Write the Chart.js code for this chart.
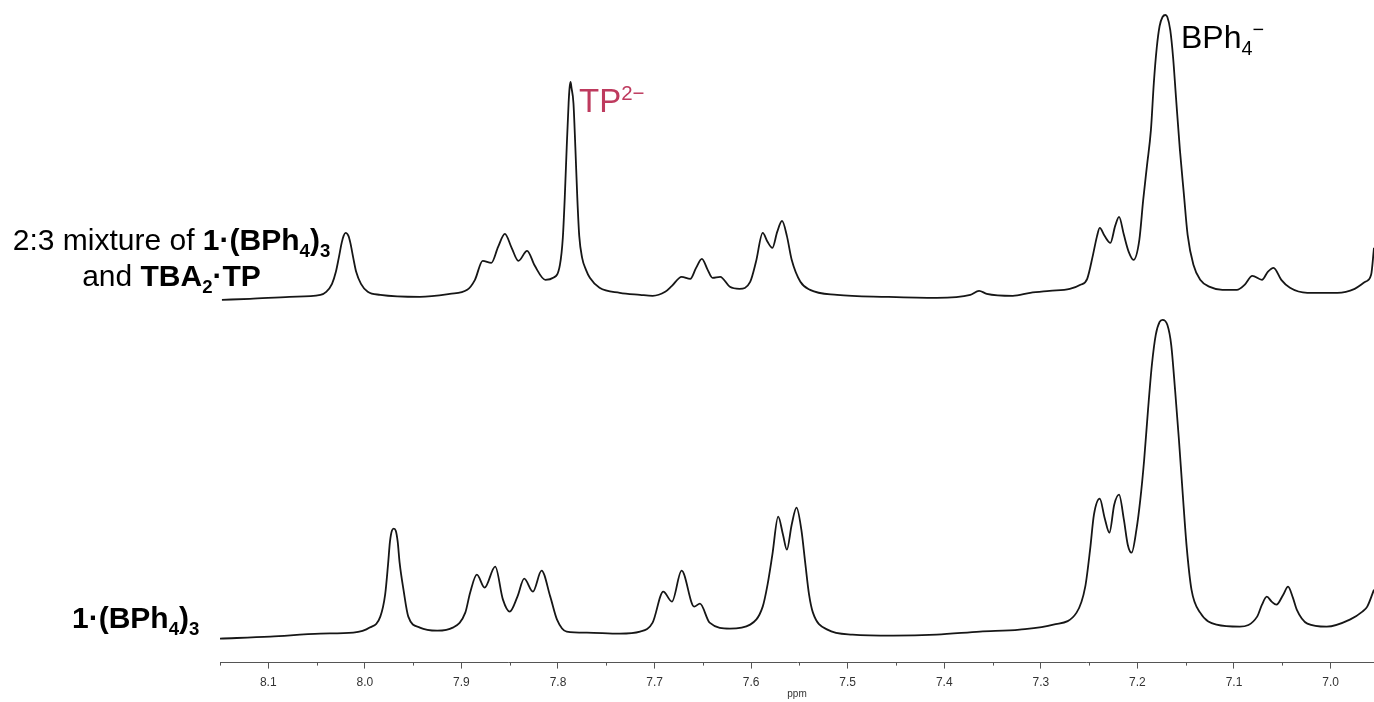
<!DOCTYPE html>
<html lang="en">
<head>
    <meta charset="UTF-8">
    <title>1H NMR spectra</title>
    <script src="https://cdn.jsdelivr.net/npm/chart.js@4.4.0/dist/chart.umd.min.js"></script>
    <style>
        body { margin: 0; background: #fff; font-family: "Liberation Sans", Arial, sans-serif; }
        #wrap { position: relative; width: 1374px; height: 702px; overflow: hidden; }
        #nmr { position: absolute; left: 0; top: 0; }
        .lbl { position: absolute; color: #000; font-size: 30px; line-height: 36px; white-space: nowrap; }
        .lbl sub, .lbl sup { font-size: 0.62em; line-height: 0; }
        .unit { position: absolute; left: 777px; top: 688px; width: 40px; text-align: center; font-size: 10px; color: #333; }
        b { font-weight: bold; }
    </style>
</head>
<body>
<div id="wrap">
    <canvas id="nmr" width="1374" height="702"></canvas>

    <!-- trace labels -->
    <div class="lbl" style="left:0; top:222px; width:343px; text-align:center;">
        2:3 mixture of <b>1·(BPh<sub>4</sub>)<sub>3</sub></b><br>
        and <b>TBA<sub>2</sub>·TP</b>
    </div>
    <div class="lbl" style="left:72px; top:600px;"><b>1·(BPh<sub>4</sub>)<sub>3</sub></b></div>

    <!-- peak labels -->
    <div class="lbl" style="left:579px; top:83px; font-size:33px; color:#BE3A5E;">TP<sup>2−</sup></div>
    <div class="lbl" style="left:1181px; top:19px; font-size:32px;">BPh<sub>4</sub><sup>−</sup></div>

    <div class="unit">ppm</div>
</div>

<script>
    // 2:3 mixture of 1·(BPh4)3 and TBA2·TP  (upper trace), left to right
    const mixPpm = [8.148, 8.119, 8.078, 8.046, 8.040, 8.034, 8.030, 8.027, 8.024, 8.022, 8.020, 8.017, 8.015, 8.012,
        8.009, 8.004, 7.997, 7.984,
        7.943, 7.912, 7.894, 7.886, 7.878, 7.869, 7.862, 7.855, 7.848, 7.841, 7.832, 7.824, 7.813, 7.805, 7.798,
        7.795, 7.793, 7.791, 7.789, 7.788, 7.787, 7.786, 7.784, 7.782, 7.780, 7.778, 7.775, 7.771, 7.767, 7.757,
        7.736, 7.715, 7.702, 7.689, 7.682,
        7.672, 7.663, 7.657, 7.651, 7.645, 7.640, 7.632, 7.622, 7.612, 7.601, 7.595, 7.588, 7.583, 7.578, 7.573,
        7.568, 7.563, 7.558, 7.549, 7.539, 7.511, 7.459, 7.408, 7.373, 7.364, 7.356, 7.329, 7.311, 7.291, 7.270,
        7.259, 7.252, 7.246, 7.242, 7.239, 7.234, 7.228, 7.223, 7.219, 7.214, 7.209, 7.204, 7.198, 7.194, 7.190,
        7.186, 7.183, 7.180, 7.177, 7.174, 7.171, 7.169, 7.166, 7.163, 7.160, 7.156, 7.152, 7.148, 7.142, 7.135,
        7.125, 7.112, 7.097, 7.089, 7.081, 7.071, 7.065, 7.059, 7.051, 7.042, 7.024, 6.993, 6.975, 6.964, 6.958, 6.955];
    const mixInt = [-2, -1, 1, 3, 6, 14, 26, 40, 55, 62, 65, 62, 55, 40,
        26, 14, 6, 3,
        1, 4, 8, 18, 37, 35, 51, 64, 50, 37, 47, 32, 18, 20, 33,
        60, 100, 150, 195, 210, 216, 210, 195, 150, 100, 62, 40, 28, 20, 10,
        5, 3, 2, 6, 12,
        21, 19, 30, 39, 28, 20, 21, 11, 9, 16, 36, 65, 56, 50, 66,
        77, 62, 38, 16, 8, 3, 1, 0, 3, 7, 4, 2, 5, 7, 9,
        13, 19, 43, 61, 70, 62, 55, 72, 81, 63, 46, 38, 58, 98, 133,
        168, 215, 250, 272, 281, 283, 281, 268, 240, 200, 148, 105, 63, 33, 18,
        11, 8, 8, 13, 22, 18, 26, 30, 18, 10, 5, 5, 9, 16, 23, 50];

    // 1·(BPh4)3 alone (lower trace)
    const purePpm = [8.150, 8.098, 8.046, 8.012, 7.995, 7.984, 7.979, 7.976, 7.974, 7.972, 7.970, 7.968, 7.966, 7.964,
        7.960, 7.955,
        7.943, 7.925, 7.909, 7.896, 7.891, 7.884, 7.876, 7.865, 7.857, 7.850, 7.842, 7.835, 7.826, 7.817, 7.808,
        7.801, 7.791, 7.770, 7.736, 7.715, 7.702, 7.691, 7.682, 7.672, 7.659, 7.653, 7.643, 7.622, 7.601, 7.588,
        7.583, 7.578, 7.572, 7.567, 7.563, 7.558, 7.553, 7.548, 7.544, 7.540, 7.536, 7.521, 7.495, 7.453, 7.408,
        7.363, 7.322, 7.287, 7.263, 7.254, 7.249, 7.245, 7.239, 7.234, 7.229, 7.224, 7.219, 7.214, 7.210, 7.206,
        7.201, 7.197, 7.193, 7.189, 7.185, 7.181, 7.177, 7.174, 7.169, 7.165, 7.161, 7.157, 7.153, 7.149, 7.144,
        7.135, 7.118, 7.094, 7.076, 7.071, 7.066, 7.061, 7.056, 7.049, 7.044, 7.039, 7.035, 7.024, 7.004, 6.980,
        6.967, 6.962, 6.955];
    const pureInt = [-2, 0, 3, 4, 9, 20, 42, 72, 95, 106, 108, 106, 95, 74,
        47, 20,
        9, 6, 9, 24, 44, 62, 49, 70, 37, 25, 40, 58, 45, 66, 40,
        17, 5, 4, 3, 5, 14, 45, 35, 66, 30, 33, 14, 8, 12, 30,
        52, 82, 120, 102, 87, 112, 129, 107, 74, 42, 24, 7, 2, 1, 2,
        5, 7, 12, 24, 50, 87, 122, 138, 119, 104, 132, 142, 117, 92, 84,
        107, 137, 177, 227, 272, 302, 315, 317, 312, 292, 247, 197, 142, 90, 47,
        24, 12, 10, 20, 32, 40, 35, 32, 42, 50, 39, 27, 13, 10, 17,
        25, 30, 47];

    const majorTicks = [8.1, 8.0, 7.9, 7.8, 7.7, 7.6, 7.5, 7.4, 7.3, 7.2, 7.1, 7.0];
    const minorTicks = [8.15, 8.05, 7.95, 7.85, 7.75, 7.65, 7.55, 7.45, 7.35, 7.25, 7.15, 7.05];

    // vertical stacking of the two traces
    const mixOffset = 365;
    const pureOffset = 26;

    function toPoints(ppm, vals, offset) {
        return ppm.map((p, i) => ({ x: p, y: vals[i] + offset }));
    }

    // short unlabeled ticks halfway between the labelled ones
    const minorTickPlugin = {
        id: 'minorTicks',
        afterDraw(chart) {
            const sx = chart.scales.x;
            const ctx = chart.ctx;
            ctx.save();
            ctx.strokeStyle = '#555';
            ctx.lineWidth = 1;
            minorTicks.forEach(v => {
                const px = Math.round(sx.getPixelForValue(v)) + 0.5;
                ctx.beginPath();
                ctx.moveTo(px, sx.top);
                ctx.lineTo(px, sx.top + 3);
                ctx.stroke();
            });
            ctx.restore();
        }
    };

    const traceStyle = {
        borderColor: '#161616',
        borderWidth: 1.8,
        pointRadius: 0,
        fill: false,
        cubicInterpolationMode: 'monotone'
    };

    new Chart(document.getElementById('nmr').getContext('2d'), {
        type: 'line',
        data: {
            datasets: [
                Object.assign({ label: 'mixture', data: toPoints(mixPpm, mixInt, mixOffset) }, traceStyle),
                Object.assign({ label: '1·(BPh4)3', data: toPoints(purePpm, pureInt, pureOffset) }, traceStyle)
            ]
        },
        options: {
            responsive: false,
            animation: false,
            layout: { padding: { left: 220, right: 0, top: 0, bottom: 5 } },
            plugins: {
                legend: { display: false },
                tooltip: { enabled: false }
            },
            scales: {
                x: {
                    type: 'linear',
                    reverse: true,
                    min: 6.955,
                    max: 8.15,
                    afterBuildTicks: scale => {
                        scale.ticks = majorTicks.map(v => ({ value: v }));
                    },
                    border: { display: true, color: '#555', width: 1 },
                    grid: { drawOnChartArea: false, drawTicks: true, tickLength: 6, tickColor: '#555' },
                    ticks: {
                        padding: 7,
                        color: '#333',
                        font: { family: 'Liberation Sans', size: 12 },
                        maxRotation: 0,
                        autoSkip: false,
                        callback: v => Number(v).toFixed(1)
                    },
                    title: { display: false }
                },
                y: {
                    display: false,
                    min: 0,
                    max: 663
                }
            }
        },
        plugins: [minorTickPlugin]
    });
</script>
</body>
</html>
